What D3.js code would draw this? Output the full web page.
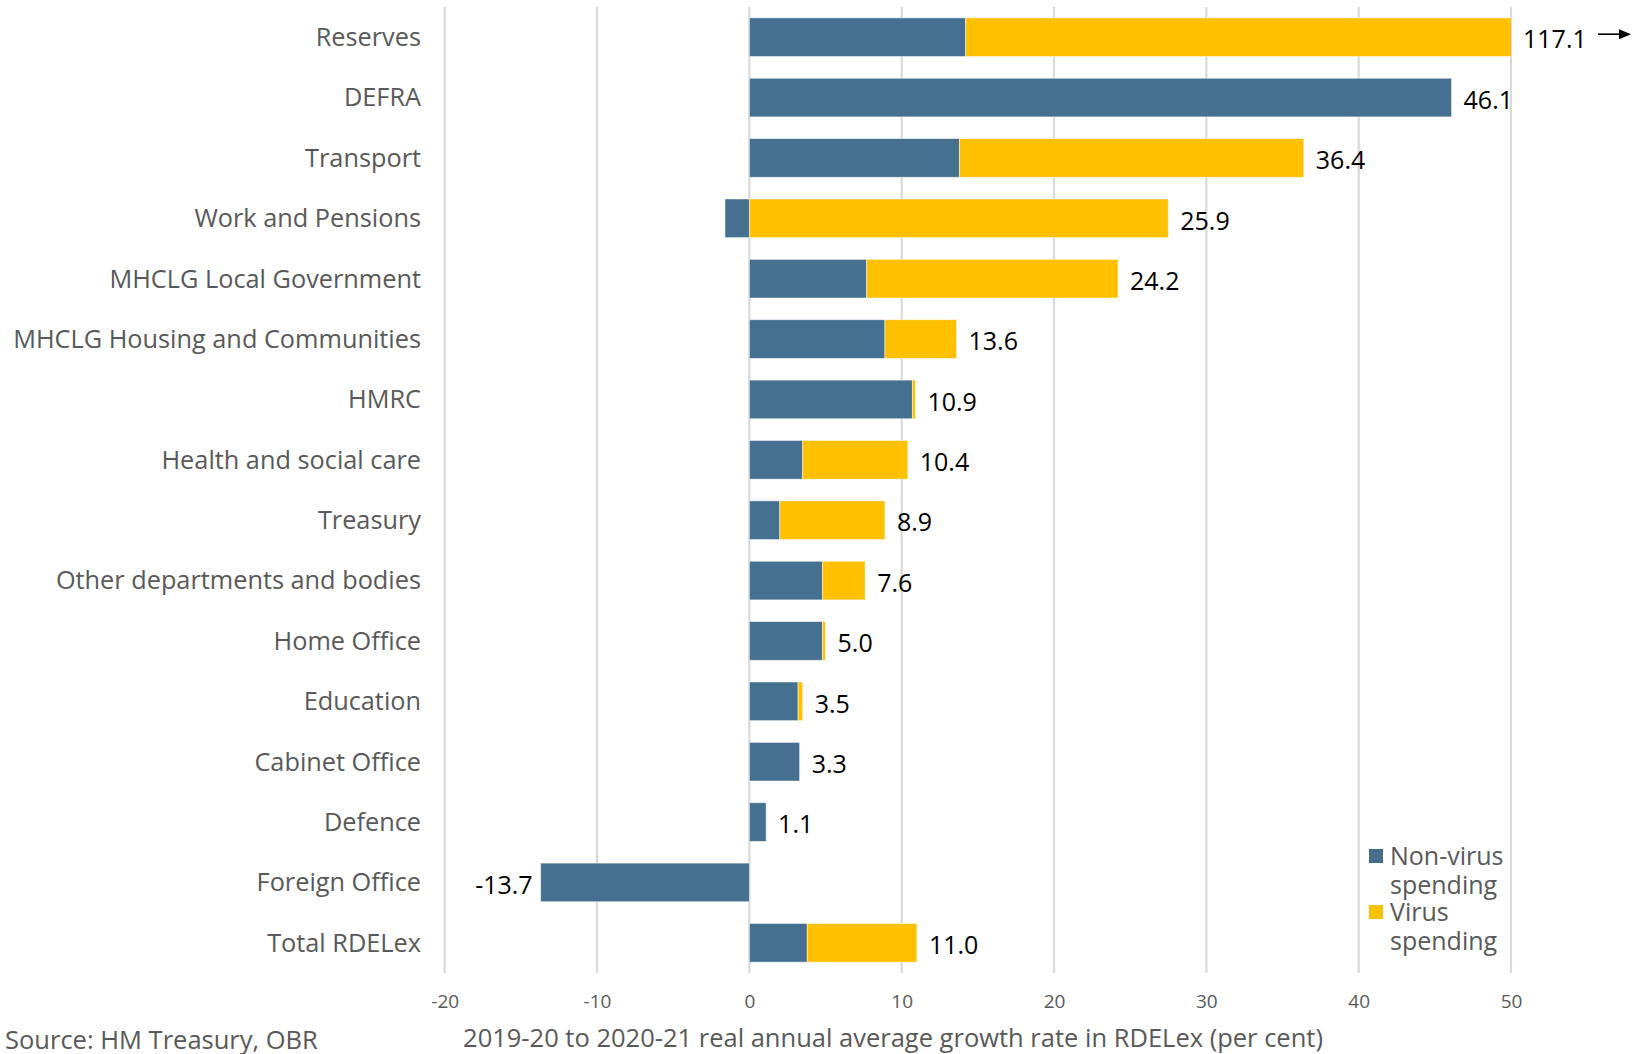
<!DOCTYPE html>
<html>
<head>
<meta charset="utf-8">
<script src="https://cdn.jsdelivr.net/npm/d3@7"></script>
<style>
  html, body { margin: 0; padding: 0; background: #fff; }
  svg { display: block; }
  text { font-family: "Open Sans", Lato, sans-serif; }
</style>
</head>
<body>
<svg id="chart" width="1636" height="1054"></svg>
<script>
// Departments, top to bottom
const categories = [
  "Reserves", "DEFRA", "Transport", "Work and Pensions",
  "MHCLG Local Government", "MHCLG Housing and Communities", "HMRC",
  "Health and social care", "Treasury", "Other departments and bodies",
  "Home Office", "Education", "Cabinet Office", "Defence",
  "Foreign Office", "Total RDELex"
];
// Contribution to growth, per cent
const nonVirus = [14.2, 46.1, 13.8, -1.6, 7.7, 8.9, 10.7, 3.5, 2.0, 4.8, 4.8, 3.2, 3.3, 1.1, -13.7, 3.8];
const virus    = [102.9, 0, 22.6, 27.5, 16.5, 4.7, 0.2, 6.9, 6.9, 2.8, 0.2, 0.3, 0, 0, 0, 7.2];
// Total growth shown beside each bar
const totals   = [117.1, 46.1, 36.4, 25.9, 24.2, 13.6, 10.9, 10.4, 8.9, 7.6, 5.0, 3.5, 3.3, 1.1, -13.7, 11.0];

const seriesKeys = ["Non-virus spending", "Virus spending"];
const seriesColors = ["#46708f", "#ffc000"];
const xTicks = [-20, -10, 0, 10, 20, 30, 40, 50];
const xTitle = "2019-20 to 2020-21 real annual average growth rate in RDELex (per cent)";
const sourceText = "Source: HM Treasury, OBR";

const rows = categories.map((c, i) => ({
  category: c, "Non-virus spending": nonVirus[i], "Virus spending": virus[i], total: totals[i]
}));

const svg = d3.select("#chart");
const plotLeft = 444.7, plotRight = 1511, plotTop = 7, plotBottom = 973;

// plain hyphen for negative numbers
const locale = d3.formatLocale({ decimal: ".", thousands: ",", grouping: [3], currency: ["", ""], minus: "-" });
const fmtTick = locale.format("d");
const fmtValue = locale.format(".1f");

const x = d3.scaleLinear().domain([-20, 50]).range([plotLeft, plotRight]);
const y = d3.scaleBand().domain(categories).range([plotTop, plotBottom])
  .paddingInner(0.36).paddingOuter(0.18);

// vertical gridlines
svg.append("g").selectAll("line").data(xTicks).join("line")
  .attr("x1", d => x(d)).attr("x2", d => x(d))
  .attr("y1", plotTop).attr("y2", plotBottom)
  .attr("stroke", "#d9d9d9").attr("stroke-width", 2.2);

// tick labels
const xAxis = d3.axisBottom(x).tickValues(xTicks).tickFormat(fmtTick).tickSize(0).tickPadding(0);
const gx = svg.append("g").attr("transform", `translate(0,${plotBottom})`).call(xAxis);
gx.select(".domain").remove();
gx.selectAll("text")
  .attr("y", 28).attr("dy", "0.35em")
  .attr("fill", "#595959").attr("font-size", 19)
  .attr("font-family", "\"Open Sans\", sans-serif");

// bars clipped to the plot width
svg.append("clipPath").attr("id", "plotClip")
  .append("rect").attr("x", plotLeft).attr("y", 0).attr("width", plotRight - plotLeft).attr("height", 1054);

const stack = d3.stack().keys(seriesKeys).offset(d3.stackOffsetDiverging);
const layers = stack(rows);

const gBars = svg.append("g").attr("clip-path", "url(#plotClip)");
gBars.selectAll("g").data(layers).join("g")
  .attr("fill", (d, i) => seriesColors[i])
  .selectAll("rect").data(d => d.filter(s => s[1] !== s[0]))
  .join("rect")
  .attr("x", d => x(Math.min(d[0], d[1])))
  .attr("width", d => Math.abs(x(d[1]) - x(d[0])))
  .attr("y", d => y(d.data.category))
  .attr("height", y.bandwidth())
  .attr("stroke", "rgba(255,255,255,0.6)").attr("stroke-width", 0.8);

// category labels
svg.append("g").selectAll("text").data(categories).join("text")
  .attr("x", 421).attr("y", d => y(d) + y.bandwidth() / 2)
  .attr("dy", "0.35em").attr("text-anchor", "end")
  .attr("fill", "#595959").attr("font-size", 25.3)
  .text(d => d);

// value labels
svg.append("g").selectAll("text").data(rows).join("text")
  .attr("x", d => {
    const pos = Math.max(0, d["Non-virus spending"]) + Math.max(0, d["Virus spending"]);
    const neg = Math.min(0, d["Non-virus spending"]) + Math.min(0, d["Virus spending"]);
    return d.total < 0 ? x(neg) - 8 : x(Math.min(pos, 50)) + 12;
  })
  .attr("y", d => y(d.category) + y.bandwidth() / 2 + 2.5)
  .attr("dy", "0.35em")
  .attr("text-anchor", d => d.total < 0 ? "end" : "start")
  .attr("fill", "#000").attr("font-size", 25)
  .text(d => fmtValue(d.total));

// arrow showing the Reserves bar runs off the scale
const ay = y("Reserves") + y.bandwidth() / 2 - 3;
svg.append("line").attr("x1", 1598).attr("x2", 1620).attr("y1", ay).attr("y2", ay)
  .attr("stroke", "#000").attr("stroke-width", 1.6);
svg.append("path").attr("d", `M1631,${ay} L1619,${ay - 5} L1619,${ay + 5} Z`).attr("fill", "#000");

// legend
const legend = svg.append("g");
const legendItems = [
  { color: seriesColors[0], lines: ["Non-virus", "spending"], y: 849 },
  { color: seriesColors[1], lines: ["Virus", "spending"], y: 905 }
];
legendItems.forEach(item => {
  legend.append("rect").attr("x", 1369).attr("y", item.y).attr("width", 14).attr("height", 14)
    .attr("fill", item.color);
  item.lines.forEach((ln, j) => {
    legend.append("text").attr("x", 1390).attr("y", item.y + 16 + j * 29)
      .attr("fill", "#595959").attr("font-size", 25).text(ln);
  });
});

// axis title and source
svg.append("text").attr("x", 893).attr("y", 1047)
  .attr("text-anchor", "middle").attr("fill", "#595959").attr("font-size", 25.5)
  .text(xTitle);
svg.append("text").attr("x", 5).attr("y", 1049)
  .attr("fill", "#595959").attr("font-size", 25.5)
  .text(sourceText);
</script>
</body>
</html>
